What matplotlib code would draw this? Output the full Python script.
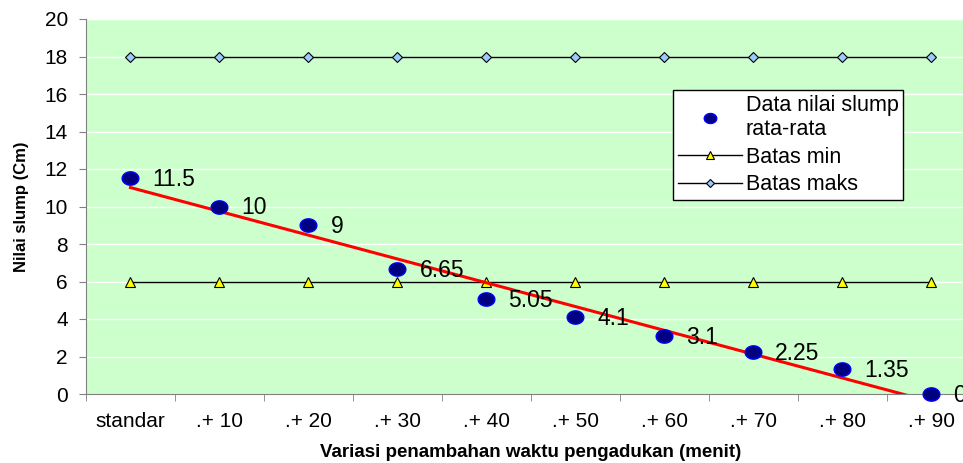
import numpy as np
import matplotlib
matplotlib.use("Agg")
import matplotlib.pyplot as plt
from matplotlib.path import Path

categories = ["standar", ".+ 10", ".+ 20", ".+ 30", ".+ 40", ".+ 50", ".+ 60", ".+ 70", ".+ 80", ".+ 90"]
slump = [11.5, 10, 9, 6.65, 5.05, 4.1, 3.1, 2.25, 1.35, 0]
slump_labels = ["11.5", "10", "9", "6.65", "5.05", "4.1", "3.1", "2.25", "1.35", "0"]
batas_min = [6] * 10
batas_maks = [18] * 10

plt.rcParams["font.family"] = ["Liberation Sans", "DejaVu Sans"]

# slightly flattened dot, wider than tall
t = np.linspace(0, 2 * np.pi, 60)
oval = Path(np.column_stack([np.cos(t), 0.8 * np.sin(t)]), closed=True)

fig = plt.figure(figsize=(9.63, 4.63), dpi=100)
ax = fig.add_axes([86 / 963, 69 / 463, 889.5 / 963, 375 / 463])
ax.set_facecolor("#ccffcc")

x = np.arange(1, len(categories) + 1)

for yv in range(2, 21, 2):
    ax.axhline(yv, color="white", lw=1.0, zorder=1)

ax.plot(x, batas_maks, color="black", lw=1.0, marker="D", markersize=5.5,
        markerfacecolor="#99ccff", markeredgecolor="black", markeredgewidth=0.8,
        label="Batas maks", zorder=3)
ax.plot(x, batas_min, color="black", lw=1.0, marker="^", markersize=7,
        markerfacecolor="#ffff00", markeredgecolor="black", markeredgewidth=0.8,
        label="Batas min", zorder=3)

# linear trend through the average slump values
coef = np.polyfit(x, slump, 1)
xt = np.linspace(x[0], x[-1], 200)
ax.plot(xt, np.polyval(coef, xt), color="#ff0000", lw=2.2, zorder=4)

ax.plot(x, slump, linestyle="none", marker=oval, markersize=12,
        markerfacecolor="#000080", markeredgecolor="#0000ff", markeredgewidth=1.0,
        label="Data nilai slump\nrata-rata", zorder=5, clip_on=False)

for xi, yi, lab in zip(x, slump, slump_labels):
    ax.annotate(lab, (xi, yi), xytext=(16, -1), textcoords="offset points",
                ha="left", va="center", fontsize=16.5, color="black", zorder=6,
                annotation_clip=False)

ax.set_xlim(0.5, len(categories) + 0.5)
ax.set_ylim(0, 20)
ax.set_yticks(range(0, 21, 2))
ax.set_xticks(x)
ax.set_xticklabels(categories, fontsize=15)
ax.set_xticks(np.arange(0.5, len(categories) + 1, 1), minor=True)
ax.tick_params(axis="x", which="major", length=0, pad=13)
ax.tick_params(axis="x", which="minor", length=5, color="#808080")
ax.tick_params(axis="y", labelsize=15, length=5, color="#808080", pad=8)

for side in ["top", "right"]:
    ax.spines[side].set_visible(False)
ax.spines["left"].set_color("#808080")
ax.spines["bottom"].set_color("#808080")

ax.set_xlabel("Variasi penambahan waktu pengadukan (menit)", fontsize=13.5,
              fontweight="bold", labelpad=9)
ax.set_ylabel("Nilai slump (Cm)", fontsize=12, fontweight="bold", labelpad=11)

h, l = ax.get_legend_handles_labels()
order = [2, 1, 0]
leg = ax.legend([h[i] for i in order], [l[i] for i in order], loc="upper left",
                bbox_to_anchor=(0.66, 0.81), borderaxespad=0, fancybox=False,
                framealpha=1, edgecolor="black", fontsize=15.5, handlelength=3.0,
                labelspacing=0.3, borderpad=0.22, handletextpad=0.15, markerscale=0.75)
leg.get_frame().set_linewidth(1.0)

fig.savefig("out.png", dpi=100)
